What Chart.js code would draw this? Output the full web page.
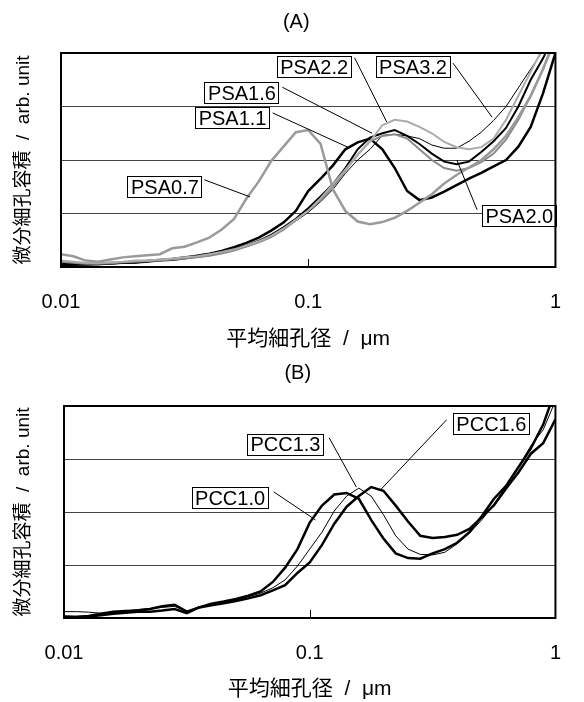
<!DOCTYPE html>
<html>
<head>
<meta charset="utf-8">
<script src="https://cdn.jsdelivr.net/npm/chart.js@4.4.0/dist/chart.umd.min.js"></script>
<style>
  body { margin: 0; background: #fff; }
  #wrap { width: 584px; height: 702px; }
  canvas { display: block; }
</style>
</head>
<body>
<div id="wrap">
  <canvas id="chartA" width="584" height="352"></canvas>
  <canvas id="chartB" width="584" height="350"></canvas>
</div>
<script>
/***************************************************/
/********************* DATA ************************/
/***************************************************/
// pore diameter (um), shared by both panels
const poreDiameter = [0.01, 0.01122, 0.01259, 0.01413, 0.01585, 0.01778, 0.01995, 0.02239, 0.02512, 0.02818,
    0.03162, 0.03548, 0.03981, 0.04467, 0.05012, 0.05623, 0.0631, 0.07079, 0.07943, 0.08913,
    0.1, 0.1122, 0.1259, 0.1413, 0.1585, 0.1778, 0.1995, 0.2239, 0.2512, 0.2818,
    0.3162, 0.3548, 0.3981, 0.4467, 0.5012, 0.5623, 0.631, 0.7079, 0.7943, 0.8913, 1.0];

// (A) differential pore volume, arb. unit
const psa07 = [0.24, 0.2, 0.12, 0.1, 0.14, 0.18, 0.2, 0.22, 0.24, 0.35, 0.38, 0.46, 0.55, 0.7, 0.9, 1.28, 1.6, 1.98, 2.25, 2.52,
    2.56, 2.3, 1.45, 1.05, 0.85, 0.8, 0.84, 0.92, 1.05, 1.2, 1.36, 1.56, 1.72, 1.86, 2.0, 2.2, 2.45, 2.8, 3.2, 3.7, 4.3];
const psa11 = [0.04, 0.04, 0.05, 0.05, 0.07, 0.08, 0.09, 0.11, 0.13, 0.15, 0.18, 0.21, 0.25, 0.3, 0.37, 0.45, 0.55, 0.68, 0.83, 1.05,
    1.42, 1.65, 1.9, 2.2, 2.33, 2.4, 2.2, 1.85, 1.42, 1.25, 1.3, 1.41, 1.53, 1.65, 1.76, 1.88, 2.0, 2.25, 2.62, 3.25, 4.0];
const psa16 = [0.06, 0.05, 0.04, 0.06, 0.06, 0.08, 0.08, 0.1, 0.12, 0.13, 0.16, 0.19, 0.22, 0.27, 0.33, 0.4, 0.49, 0.6, 0.74, 0.9,
    1.1, 1.32, 1.55, 1.85, 2.2, 2.42, 2.5, 2.56, 2.45, 2.3, 2.12, 1.97, 1.92, 1.97, 2.15, 2.35, 2.6, 3.0, 3.5, 3.9, 4.4];
const psa20 = [0.1, 0.08, 0.06, 0.06, 0.07, 0.09, 0.1, 0.11, 0.12, 0.14, 0.16, 0.18, 0.21, 0.25, 0.31, 0.38, 0.46, 0.56, 0.7, 0.88,
    1.05, 1.25, 1.5, 1.8, 2.1, 2.35, 2.45, 2.48, 2.4, 2.2, 2.0, 1.85, 1.8, 1.85, 1.96, 2.12, 2.38, 2.75, 3.2, 3.7, 4.25];
const psa22 = [0.12, 0.1, 0.08, 0.07, 0.09, 0.1, 0.12, 0.12, 0.14, 0.16, 0.18, 0.2, 0.24, 0.28, 0.33, 0.4, 0.48, 0.58, 0.72, 0.88,
    1.05, 1.28, 1.55, 1.82, 2.1, 2.35, 2.65, 2.75, 2.72, 2.62, 2.5, 2.34, 2.24, 2.2, 2.24, 2.4, 2.75, 3.2, 3.65, 4.1, 4.6];
const psa32 = [0.08, 0.07, 0.06, 0.05, 0.07, 0.08, 0.1, 0.1, 0.12, 0.14, 0.16, 0.19, 0.22, 0.26, 0.32, 0.38, 0.46, 0.56, 0.7, 0.86,
    1.02, 1.22, 1.45, 1.75, 2.0, 2.2, 2.46, 2.48, 2.45, 2.4, 2.28, 2.22, 2.22, 2.35, 2.52, 2.74, 3.0, 3.35, 3.7, 4.05, 4.5];

// (B) differential pore volume, arb. unit
const pcc10 = [0.03, 0.02, 0.04, 0.08, 0.12, 0.13, 0.14, 0.17, 0.22, 0.25, 0.12, 0.2, 0.27, 0.31, 0.36, 0.42, 0.5, 0.68, 0.95, 1.3,
    1.8, 2.12, 2.33, 2.36, 2.25, 1.85, 1.5, 1.22, 1.13, 1.12, 1.22, 1.3, 1.42, 1.62, 1.92, 2.25, 2.5, 2.85, 3.2, 3.65, 4.3];
const pcc13 = [0.12, 0.12, 0.11, 0.09, 0.1, 0.13, 0.16, 0.18, 0.2, 0.22, 0.12, 0.21, 0.25, 0.29, 0.34, 0.4, 0.47, 0.57, 0.72, 0.98,
    1.3, 1.62, 2.02, 2.3, 2.45, 2.3, 1.95, 1.55, 1.3, 1.2, 1.19, 1.24, 1.4, 1.6, 1.85, 2.15, 2.5, 2.85, 3.25, 3.55, 4.1];
const pcc16 = [0.02, 0.02, 0.03, 0.05, 0.08, 0.1, 0.12, 0.12, 0.14, 0.17, 0.09, 0.2, 0.24, 0.28, 0.32, 0.37, 0.43, 0.52, 0.62, 0.85,
    1.05, 1.38, 1.78, 2.1, 2.3, 2.47, 2.4, 2.12, 1.82, 1.55, 1.51, 1.53, 1.57, 1.68, 1.9, 2.13, 2.45, 2.75, 3.1, 3.3, 3.75];

const xTicks = [0.01, 0.1, 1];
const xTickLabels = ['0.01', '0.1', '1'];

// callout boxes: label centre and leader line, in data units
const calloutsA = [
    { text: 'PSA2.2', x: 0.1052, y: 3.74, fromX: 0.154, fromY: 3.91, toX: 0.2078, toY: 2.71 },
    { text: 'PSA3.2', x: 0.2642, y: 3.74, fromX: 0.3853, fromY: 3.81, toX: 0.5543, toY: 2.80 },
    { text: 'PSA1.6', x: 0.0537, y: 3.26, fromX: 0.0786, fromY: 3.36, toX: 0.1813, toY: 2.50 },
    { text: 'PSA1.1', x: 0.0492, y: 2.79, fromX: 0.0718, fromY: 2.88, toX: 0.1445, toY: 2.24 },
    { text: 'PSA0.7', x: 0.0262, y: 1.50, fromX: 0.038, fromY: 1.63, toX: 0.0582, toY: 1.31 },
    { text: 'PSA2.0', x: 0.711, y: 0.96, fromX: 0.482, fromY: 1.07, toX: 0.399, toY: 2.0 }
];
const calloutsB = [
    { text: 'PCC1.6', x: 0.546, y: 3.67, fromX: 0.3608, fromY: 3.74, toX: 0.1943, toY: 2.42 },
    { text: 'PCC1.3', x: 0.0793, y: 3.28, fromX: 0.12, fromY: 3.40, toX: 0.1548, toY: 2.47 },
    { text: 'PCC1.0', x: 0.0472, y: 2.27, fromX: 0.0714, fromY: 2.38, toX: 0.1056, toY: 1.85 }
];

const FONT = "'Liberation Sans', Arial, 'Noto Sans CJK JP', sans-serif";

/***************************************************/
/******************** PLUGINS **********************/
/***************************************************/
// frame, inner tick at 0.1, panel letter and callout boxes
const panelPlugin = {
    id: 'panel',
    afterDraw(chart, args, opts) {
        const ctx = chart.ctx;
        const area = chart.chartArea;
        const xs = chart.scales.x, ys = chart.scales.y;
        ctx.save();

        // leader lines + boxed labels
        ctx.font = '20px ' + FONT;
        opts.items.forEach(function (it) {
            const bx = xs.getPixelForValue(it.x);
            const by = ys.getPixelForValue(it.y);
            ctx.strokeStyle = '#000';
            ctx.lineWidth = 1;
            ctx.beginPath();
            ctx.moveTo(xs.getPixelForValue(it.fromX), ys.getPixelForValue(it.fromY));
            ctx.lineTo(xs.getPixelForValue(it.toX), ys.getPixelForValue(it.toY));
            ctx.stroke();

            const w = Math.round(ctx.measureText(it.text).width + 6);
            const h = 21;
            const left = Math.round(bx - w / 2), top = Math.round(by - h / 2);
            ctx.fillStyle = '#fff';
            ctx.fillRect(left, top, w, h);
            ctx.strokeRect(left + 0.5, top + 0.5, w, h);
            ctx.fillStyle = '#000';
            ctx.textAlign = 'center';
            ctx.textBaseline = 'middle';
            ctx.fillText(it.text, bx + 0.5, by + 1.5);
        });

        // small inner tick at 0.1
        const tx = Math.round(xs.getPixelForValue(0.1)) + 0.5;
        ctx.strokeStyle = '#000';
        ctx.lineWidth = 1;
        ctx.beginPath();
        ctx.moveTo(tx, area.bottom);
        ctx.lineTo(tx, area.bottom - 8);
        ctx.stroke();

        // plot frame
        ctx.lineWidth = 2;
        ctx.strokeRect(area.left, area.top, area.right - area.left, area.bottom - area.top);

        // panel letter
        ctx.font = '20px ' + FONT;
        ctx.textAlign = 'center';
        ctx.textBaseline = 'middle';
        ctx.fillText(opts.letter, (area.left + area.right) / 2 - 12, opts.letterY);
        ctx.restore();
    }
};

/***************************************************/
/***************** BUILD CHARTS ********************/
/***************************************************/
function toPoints(values) {
    return poreDiameter.map(function (d, i) { return { x: d, y: values[i] }; });
}

function line(label, values, color, width) {
    return {
        label: label,
        data: toPoints(values),
        borderColor: color,
        borderWidth: width,
        pointRadius: 0,
        tension: 0,
        fill: false
    };
}

function drawPanel(canvasId, datasets, callouts, letter, layout) {
    const canvas = document.getElementById(canvasId).getContext('2d');
    return new Chart(canvas, {
        type: 'line',
        data: { datasets: datasets },
        options: {
            responsive: false,
            animation: false,
            layout: { padding: { top: layout.top, right: layout.right, left: 0, bottom: 0 } },
            scales: {
                x: {
                    type: 'logarithmic',
                    min: 0.01,
                    max: 1,
                    afterBuildTicks: function (axis) {
                        axis.ticks = xTicks.map(function (v) { return { value: v }; });
                    },
                    ticks: {
                        callback: function (v) { return xTickLabels[xTicks.indexOf(v)]; },
                        font: { size: 20, family: FONT },
                        color: '#000',
                        padding: 23,
                        autoSkip: false,
                        maxRotation: 0
                    },
                    grid: { display: false, drawTicks: false },
                    border: { display: false },
                    title: {
                        display: true,
                        text: '平均細孔径  /  μm',
                        font: { size: 21, family: FONT },
                        color: '#000',
                        padding: { top: layout.xTitleTop, bottom: 0 }
                    }
                },
                y: {
                    min: 0,
                    max: 4,
                    ticks: { display: false, stepSize: 1 },
                    grid: { color: '#444', lineWidth: 1, drawTicks: false },
                    border: { display: false },
                    title: {
                        display: true,
                        text: '微分細孔容積  /  arb. unit',
                        font: { size: 19, family: FONT },
                        color: '#000',
                        padding: { top: 12, bottom: layout.yTitleBottom }
                    }
                }
            },
            plugins: {
                legend: { display: false },
                tooltip: { enabled: false },
                title: { display: false },
                panel: { items: callouts, letter: letter, letterY: layout.letterY }
            }
        },
        plugins: [panelPlugin]
    });
}

drawPanel('chartA', [
    line('PSA0.7', psa07, '#9a9a9a', 2.5),
    line('PSA2.2', psa22, '#ababab', 2),
    line('PSA2.0', psa20, '#8a8a8a', 2),
    line('PSA3.2', psa32, '#000', 1),
    line('PSA1.6', psa16, '#000', 2),
    line('PSA1.1', psa11, '#000', 2.5)
], calloutsA, '(A)', { top: 53, right: 16, xTitleTop: -10.2, yTitleBottom: 26.2, letterY: 22 });

drawPanel('chartB', [
    line('PCC1.3', pcc13, '#000', 1),
    line('PCC1.0', pcc10, '#000', 2.5),
    line('PCC1.6', pcc16, '#000', 2.5)
], calloutsB, '(B)', { top: 54, right: 14, xTitleTop: -11.2, yTitleBottom: 29.2, letterY: 21 });
</script>
</body>
</html>
